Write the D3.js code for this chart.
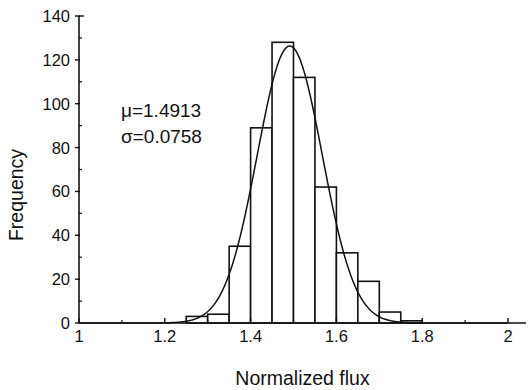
<!DOCTYPE html>
<html>
<head>
<meta charset="utf-8">
<script src="https://cdn.jsdelivr.net/npm/d3@7/dist/d3.min.js"></script>
<style>
  html, body { margin: 0; padding: 0; background: #fff; }
  svg { display: block; }
  text { font-family: "Liberation Sans", Arial, Helvetica, sans-serif; fill: #111; }
</style>
</head>
<body>
<svg id="chart" width="528" height="390"></svg>
<script>
// ---- data ----
const binStarts = [1.25, 1.30, 1.35, 1.40, 1.45, 1.50, 1.55, 1.60, 1.65, 1.70, 1.75];
const binWidth = 0.05;
const counts = [3, 4, 35, 89, 128, 112, 62, 32, 19, 5, 1];
const xTicks = [1, 1.2, 1.4, 1.6, 1.8, 2];
const xMinorTicks = [1.1, 1.3, 1.5, 1.7, 1.9];
const yTicks = [0, 20, 40, 60, 80, 100, 120, 140];
const yMinorTicks = [10, 30, 50, 70, 90, 110, 130];
const fitMu = 1.4913;
const fitSigma = 0.0758;
const fitN = 480; // effective sample count of the fitted normal curve
const annotations = ["\u03bc=1.4913", "\u03c3=0.0758"];

// ---- layout ----
const svg = d3.select("#chart");
const x = d3.scaleLinear().domain([1, 2]).range([79, 508]);
const y = d3.scaleLinear().domain([0, 140]).range([323, 16]);
const xAxisEnd = 2.042;
const ink = "#111";

// bars
svg.append("g").selectAll("rect")
  .data(binStarts.map((b, i) => ({ b, c: counts[i] })))
  .join("rect")
  .attr("x", d => x(d.b))
  .attr("y", d => y(d.c))
  .attr("width", d => x(d.b + binWidth) - x(d.b))
  .attr("height", d => y(0) - y(d.c))
  .attr("fill", "#fff")
  .attr("stroke", ink)
  .attr("stroke-width", 1.6);

// fitted normal curve
const pdf = v => fitN * binWidth / (fitSigma * Math.sqrt(2 * Math.PI)) *
  Math.exp(-0.5 * Math.pow((v - fitMu) / fitSigma, 2));
const xs = d3.range(1.0, 2.0001, 0.002);
svg.append("path")
  .datum(xs)
  .attr("d", d3.line().x(v => x(v)).y(v => y(pdf(v))).curve(d3.curveLinear))
  .attr("fill", "none")
  .attr("stroke", ink)
  .attr("stroke-width", 1.5);

// y axis
const yg = svg.append("g");
yg.append("line").attr("x1", x(1)).attr("x2", x(1)).attr("y1", y(0)).attr("y2", y(140))
  .attr("stroke", ink).attr("stroke-width", 1.6);
yg.selectAll(".ymaj").data(yTicks).join("line")
  .attr("x1", x(1) - 4).attr("x2", x(1) + 1)
  .attr("y1", d => y(d)).attr("y2", d => y(d))
  .attr("stroke", ink).attr("stroke-width", 1.4);
yg.append("line").attr("x1", x(1)).attr("x2", x(1) + 5)
  .attr("y1", y(140)).attr("y2", y(140)).attr("stroke", ink).attr("stroke-width", 1.4);
yg.selectAll(".ymin").data(yMinorTicks).join("line")
  .attr("x1", x(1)).attr("x2", x(1) + 3)
  .attr("y1", d => y(d)).attr("y2", d => y(d))
  .attr("stroke", ink).attr("stroke-width", 1.2);
yg.selectAll("text").data(yTicks).join("text")
  .attr("x", x(1) - 9).attr("y", d => y(d) + 6)
  .attr("text-anchor", "end")
  .attr("font-size", 16.5)
  .text(d => d);

// x axis
const xg = svg.append("g");
xg.append("line").attr("x1", x(1)).attr("x2", x(xAxisEnd)).attr("y1", y(0)).attr("y2", y(0))
  .attr("stroke", ink).attr("stroke-width", 1.6);
xg.selectAll(".xmaj").data(xTicks).join("line")
  .attr("x1", d => x(d)).attr("x2", d => x(d))
  .attr("y1", y(0)).attr("y2", y(0) - 5)
  .attr("stroke", ink).attr("stroke-width", 1.4);
xg.selectAll(".xmin").data(xMinorTicks).join("line")
  .attr("x1", d => x(d)).attr("x2", d => x(d))
  .attr("y1", y(0)).attr("y2", y(0) - 3)
  .attr("stroke", ink).attr("stroke-width", 1.2);
xg.selectAll("text").data(xTicks).join("text")
  .attr("x", d => x(d)).attr("y", 342)
  .attr("text-anchor", "middle")
  .attr("font-size", 16.5)
  .text(d => d);

// axis titles
svg.append("text")
  .attr("x", (x(1) + x(xAxisEnd)) / 2).attr("y", 385)
  .attr("text-anchor", "middle").attr("font-size", 19.5)
  .text("Normalized flux");
svg.append("text")
  .attr("transform", "translate(23,195) rotate(-90)")
  .attr("text-anchor", "middle").attr("font-size", 19.5)
  .text("Frequency");

// annotation
svg.append("g").selectAll("text").data(annotations).join("text")
  .attr("x", 121).attr("y", (d, i) => 117 + i * 26)
  .attr("font-size", 19)
  .text(d => d);
</script>
</body>
</html>
